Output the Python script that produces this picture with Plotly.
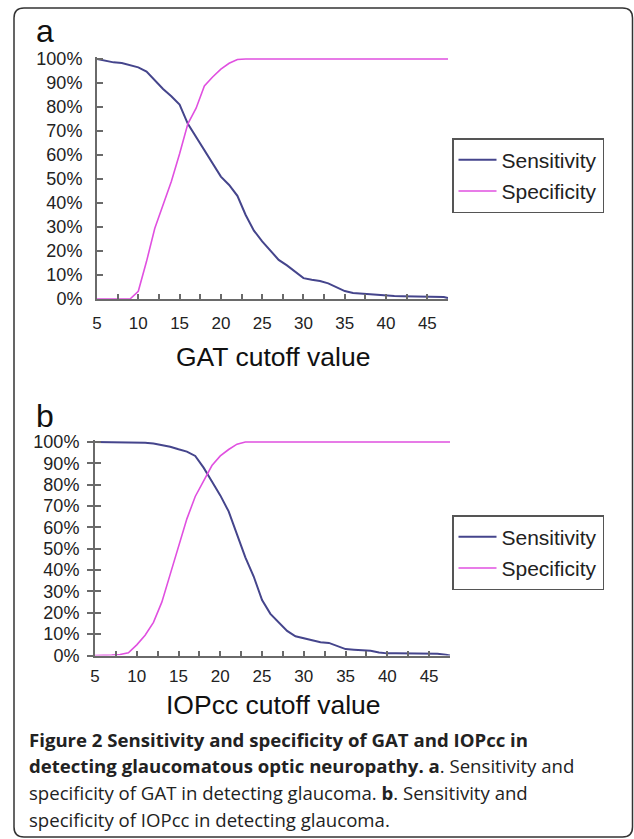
import plotly.graph_objects as go

# ---------------- data ----------------
cutoff = [5, 6, 7, 8, 9, 10, 11, 12, 13, 14, 15, 16, 17, 18, 19, 20, 21, 22, 23, 24,
          25, 26, 27, 28, 29, 30, 31, 32, 33, 34, 35, 36, 37, 38, 39, 40, 41, 42, 43,
          44, 45, 46, 47, 47.5]

gat_sensitivity = [100, 99.3, 98.6, 98.3, 97.5, 96.5, 94.8, 91, 87.5, 84.5, 81, 73, 67.5,
                   62, 56, 51, 47.5, 43, 35, 28.5, 24, 20, 16.3, 14, 11.3, 8.7, 8, 7.5,
                   6.5, 5, 3.3, 2.5, 2.2, 1.8, 1.6, 1.3, 1.2, 1.1, 1.1, 1.1, 1.0, 1.0,
                   0.8, 0.4]
gat_specificity = [0, 0, 0, 0, 0, 3.2, 15.7, 29.5, 38.8, 49, 60.5, 73, 79.5, 88.8, 92.5,
                   95.8, 98.2, 99.8, 100, 100, 100, 100, 100, 100, 100, 100, 100, 100,
                   100, 100, 100, 100, 100, 100, 100, 100, 100, 100, 100, 100, 100, 100,
                   100, 100]

iop_sensitivity = [100, 100, 100, 100, 100, 100, 99.7, 99.3, 98.6, 97.8, 96.6, 95.5, 93.5,
                   88, 81.5, 75, 67.5, 57, 46, 37, 26, 19.5, 15.5, 11.5, 9, 8, 7, 6.2,
                   5.9, 4.5, 3, 2.7, 2.5, 2.2, 1.4, 1, 1, 1, 1, 1, 1, 0.8, 0.3, 0]
iop_specificity = [0, 0, 0.2, 0.5, 1.3, 5, 9.5, 15.5, 25, 38, 51, 64, 74.5, 82, 89, 93.5,
                   96.5, 99, 100, 100, 100, 100, 100, 100, 100, 100, 100, 100, 100, 100,
                   100, 100, 100, 100, 100, 100, 100, 100, 100, 100, 100, 100, 100, 100]

y_tick_values = [0, 10, 20, 30, 40, 50, 60, 70, 80, 90, 100]
y_tick_labels = ["0%", "10%", "20%", "30%", "40%", "50%", "60%", "70%", "80%", "90%", "100%"]
x_tick_values = [5, 10, 15, 20, 25, 30, 35, 40, 45]
x_tick_labels = ["5", "10", "15", "20", "25", "30", "35", "40", "45"]

series_names = ["Sensitivity", "Specificity"]
panel_letters = ["a", "b"]
axis_titles = ["GAT cutoff value", "IOPcc cutoff value"]
caption_lines = [
    "<b>Figure 2 Sensitivity and specificity of GAT and IOPcc in</b>",
    "<b>detecting glaucomatous optic neuropathy. a</b>. Sensitivity and",
    "specificity of GAT in detecting glaucoma. <b>b</b>. Sensitivity and",
    "specificity of IOPcc in detecting glaucoma.",
]

# ---------------- styling ----------------
W, H = 634, 839
SENS_COLOR = "#45458c"
SPEC_COLOR = "#e050e0"
AXIS_COLOR = "#6a6a6a"
FONT = "Liberation Sans, Arial, sans-serif"
CAP_FONT = "Open Sans, Noto Sans, sans-serif"


def px(x):
    return x / W


def py(y):
    return 1 - y / H


fig = go.Figure()

fig.add_trace(go.Scatter(x=cutoff, y=gat_sensitivity, name=series_names[0], mode="lines",
                         line=dict(color=SENS_COLOR, width=2), xaxis="x", yaxis="y",
                         legend="legend", legendgroup="s1"))
fig.add_trace(go.Scatter(x=cutoff, y=gat_specificity, name=series_names[1], mode="lines",
                         line=dict(color=SPEC_COLOR, width=1.6), xaxis="x", yaxis="y",
                         legend="legend", legendgroup="p1"))
fig.add_trace(go.Scatter(x=cutoff, y=iop_sensitivity, name=series_names[0], mode="lines",
                         line=dict(color=SENS_COLOR, width=2), xaxis="x2", yaxis="y2",
                         legend="legend2", legendgroup="s2"))
fig.add_trace(go.Scatter(x=cutoff, y=iop_specificity, name=series_names[1], mode="lines",
                         line=dict(color=SPEC_COLOR, width=1.6), xaxis="x2", yaxis="y2",
                         legend="legend2", legendgroup="p2"))
# empty trace to materialise the overlay axis (inner half of crossing ticks in panel b)
fig.add_trace(go.Scatter(x=[], y=[], xaxis="x2", yaxis="y3", showlegend=False,
                         hoverinfo="skip"))

xtickfont = dict(family=FONT, size=17, color="#222222")
ytickfont = dict(family=FONT, size=18, color="#222222")

common_x = dict(range=[5, 47.5], tickmode="array", tickvals=x_tick_values,
                ticktext=x_tick_labels, ticks="inside", ticklen=5, tickwidth=1.5,
                tickcolor=AXIS_COLOR, showline=True, linecolor=AXIS_COLOR, linewidth=2,
                showgrid=False, zeroline=False, tickfont=xtickfont,
                automargin=False,
                minor=dict(tick0=5, dtick=2.5, ticks="inside", ticklen=5, tickwidth=1.5,
                           tickcolor=AXIS_COLOR, showgrid=False))
common_y = dict(range=[0, 101], tickmode="array", tickvals=y_tick_values,
                ticktext=y_tick_labels, tickwidth=1.5, tickcolor=AXIS_COLOR,
                showline=True, linecolor=AXIS_COLOR, linewidth=2, showgrid=False,
                zeroline=False, tickfont=ytickfont, automargin=False)

legend_common = dict(xanchor="left", yanchor="top",
                     font=dict(family=FONT, size=21, color="#222222"),
                     bordercolor="#555555", borderwidth=1.5, bgcolor="white",
                     tracegroupgap=1, itemwidth=38)

fig.update_layout(
    width=W, height=H,
    margin=dict(l=0, r=0, t=0, b=0, autoexpand=False),
    paper_bgcolor="white", plot_bgcolor="white",
    xaxis=dict(domain=[px(97), px(448)], anchor="y", ticklabelstandoff=8, **common_x),
    yaxis=dict(domain=[py(299), py(56.6)], anchor="x", ticks="inside", ticklen=6,
               ticklabelstandoff=9, **common_y),
    xaxis2=dict(domain=[px(95), px(450)], anchor="y2", ticklabelstandoff=4, **common_x),
    yaxis2=dict(domain=[py(655.5), py(439.9)], anchor="x2", ticks="outside", ticklen=6,
                ticklabelstandoff=4, **common_y),
    yaxis3=dict(overlaying="y2", matches="y2", anchor="x2", range=[0, 101],
                tickmode="array", tickvals=y_tick_values, ticks="inside", ticklen=6,
                tickwidth=1.5, tickcolor=AXIS_COLOR, showticklabels=False,
                showline=False, showgrid=False, zeroline=False, automargin=False),
    legend=dict(x=px(452), y=py(138), **legend_common),
    legend2=dict(x=px(452), y=py(515), **legend_common),
    showlegend=True,
)

annotations = []
for letter, yc in zip(panel_letters, [31, 416]):
    annotations.append(dict(text=letter, x=px(34), y=py(yc), xref="paper", yref="paper",
                            xanchor="left", yanchor="middle", showarrow=False,
                            font=dict(family=FONT, size=32, color="#111111")))
for title, yc in zip(axis_titles, [357, 705]):
    annotations.append(dict(text=title, x=px(273), y=py(yc), xref="paper", yref="paper",
                            xanchor="center", yanchor="middle", showarrow=False,
                            font=dict(family=FONT, size=26.5, color="#111111")))
for line, yc in zip(caption_lines, [739, 765, 792, 819]):
    annotations.append(dict(text=line, x=px(27), y=py(yc), xref="paper", yref="paper",
                            xanchor="left", yanchor="middle", showarrow=False,
                            font=dict(family=CAP_FONT, size=18.6, color="#222222")))
fig.update_layout(annotations=annotations)

# rounded frame around the figure
x0, x1, y0, y1, r = 14, 632.5, 8, 837, 10
path = (f"M {px(x0 + r)},{py(y0)} L {px(x1 - r)},{py(y0)} "
        f"Q {px(x1)},{py(y0)} {px(x1)},{py(y0 + r)} L {px(x1)},{py(y1 - r)} "
        f"Q {px(x1)},{py(y1)} {px(x1 - r)},{py(y1)} L {px(x0 + r)},{py(y1)} "
        f"Q {px(x0)},{py(y1)} {px(x0)},{py(y1 - r)} L {px(x0)},{py(y0 + r)} "
        f"Q {px(x0)},{py(y0)} {px(x0 + r)},{py(y0)} Z")
fig.add_shape(type="path", path=path, xref="paper", yref="paper",
              line=dict(color="#333333", width=1.5), layer="below")

fig.write_html("out.html", config={"displayModeBar": False},
               post_script="document.body.style.margin='0px';"
                           "document.body.style.overflow='hidden';")
